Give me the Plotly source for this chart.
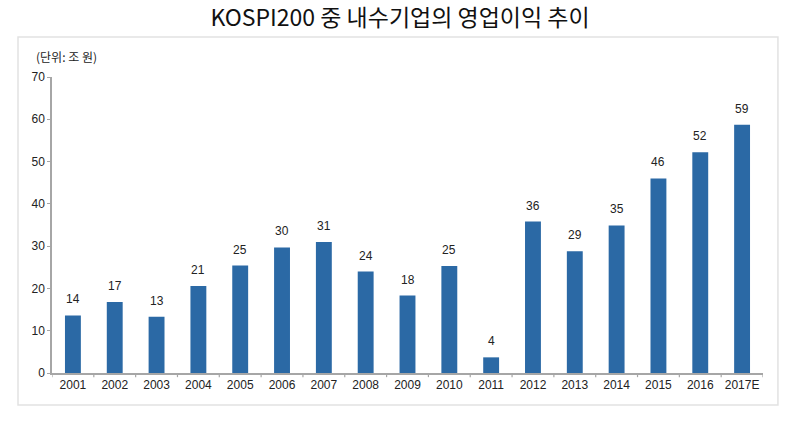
import plotly.graph_objects as go

years = ["2001", "2002", "2003", "2004", "2005", "2006", "2007", "2008", "2009",
         "2010", "2011", "2012", "2013", "2014", "2015", "2016", "2017E"]
profits = [13.6, 16.8, 13.3, 20.6, 25.4, 29.7, 31.0, 24.0, 18.3,
           25.3, 3.7, 35.8, 28.8, 34.9, 46.0, 52.2, 58.7]
labels = ["14", "17", "13", "21", "25", "30", "31", "24", "18",
          "25", "4", "36", "29", "35", "46", "52", "59"]
y_ticks = [0, 10, 20, 30, 40, 50, 60, 70]

font_main = "Noto Sans CJK KR, Noto Sans, sans-serif"
font_num = "Arial, Liberation Sans, sans-serif"

fig = go.Figure()
fig.add_trace(go.Bar(
    x=list(range(len(years))), y=profits,
    marker=dict(color="#2B69A5", line=dict(width=0)),
    width=0.38,
    hovertext=years, hoverinfo="text+y",
))

for i, (v, lab) in enumerate(zip(profits, labels)):
    fig.add_annotation(x=i, y=v, text=lab, showarrow=False,
                       yanchor="bottom", yshift=7,
                       font=dict(size=12, color="#222222", family=font_num))

fig.update_layout(
    width=800, height=434,
    margin=dict(l=52, r=37, t=77, b=61),
    paper_bgcolor="white", plot_bgcolor="white",
    showlegend=False,
    title=dict(text="KOSPI200 중 내수기업의 영업이익 추이", x=0.5, xanchor="center",
               y=0.958, yanchor="middle",
               font=dict(size=23, color="#111111", family=font_main)),
    xaxis=dict(
        tickmode="array", tickvals=list(range(len(years))), ticktext=years,
        showgrid=False, showline=True, linecolor="#A6A6A6", linewidth=1.5,
        ticks="", tickfont=dict(size=12, color="#222222", family=font_num),
        range=[-0.5, len(years) - 0.5], zeroline=False,
    ),
    yaxis=dict(
        range=[0, 70], tickvals=y_ticks, showgrid=False, showline=True,
        linecolor="#A6A6A6", linewidth=1.5, ticks="outside", ticklen=3, tickcolor="#A6A6A6",
        tickfont=dict(size=12, color="#222222", family=font_num),
        zeroline=False,
    ),
    shapes=[dict(type="rect", xref="paper", yref="paper",
                 x0=-0.0478, x1=1.021, y0=-0.108, y1=1.135,
                 line=dict(color="#E2E2E2", width=1.5), layer="below")],
)
# category boundary ticks on the x axis
for i in range(len(years) + 1):
    fig.add_shape(type="line", xref="x", yref="paper", x0=i - 0.5, x1=i - 0.5,
                  y0=0, y1=-0.014, line=dict(color="#A6A6A6", width=1.2))

fig.add_annotation(xref="paper", yref="paper", x=-0.025, y=1.07, xanchor="left", yanchor="middle",
                   text="(단위: 조 원)", showarrow=False,
                   font=dict(size=12, color="#222222", family=font_main))

fig.write_html("out.html")
